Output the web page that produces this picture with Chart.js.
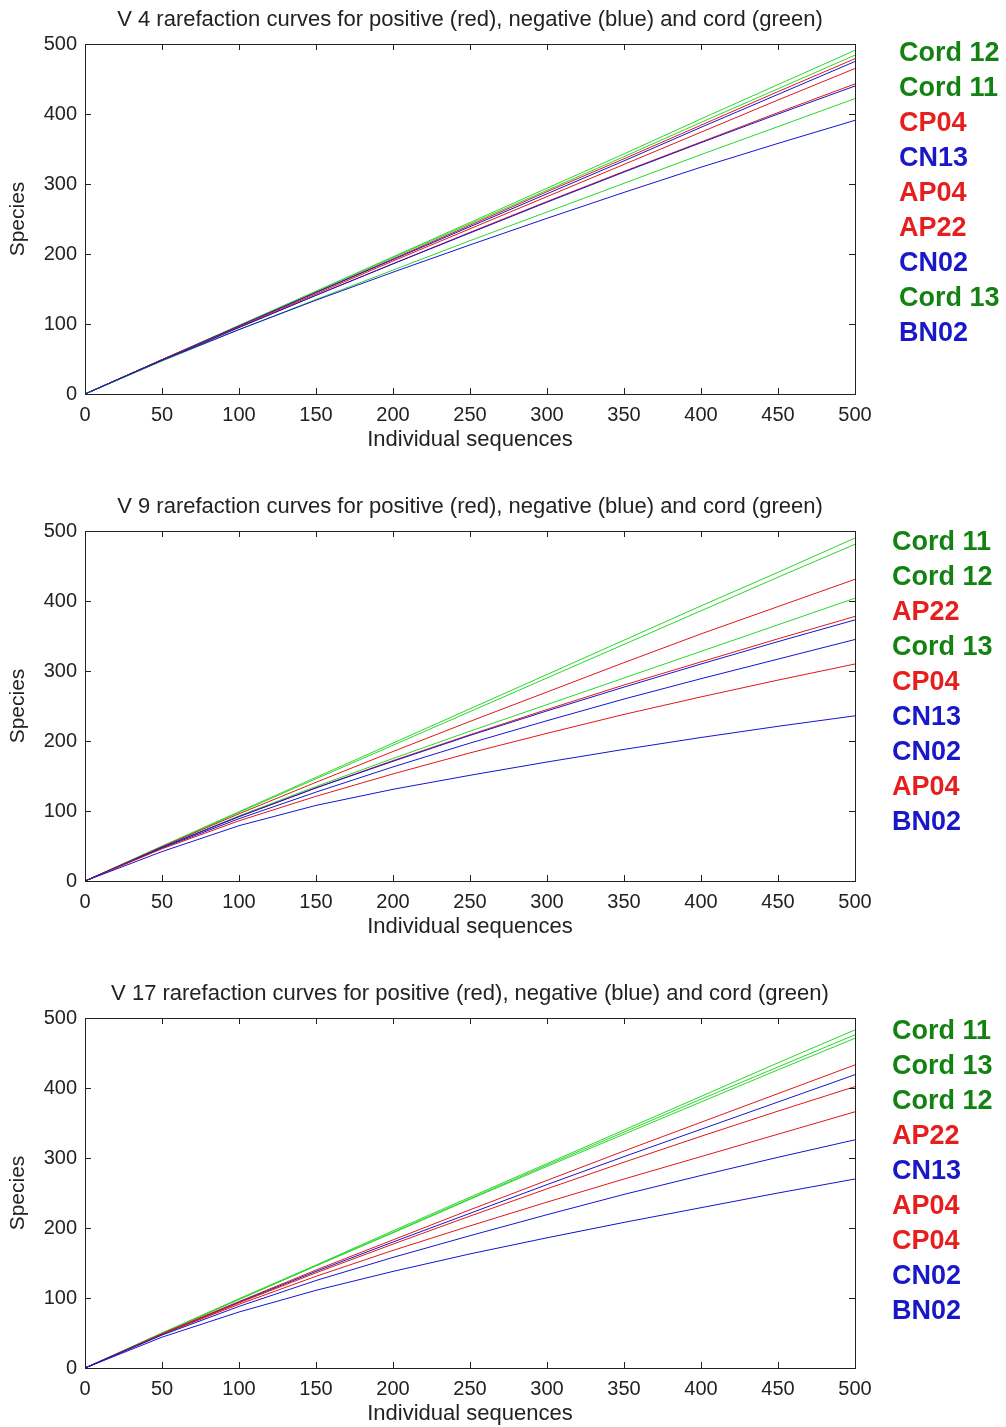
<!DOCTYPE html>
<html>
<head>
<meta charset="utf-8">
<script src="https://cdn.jsdelivr.net/npm/chart.js@4.4.1/dist/chart.umd.min.js"></script>
<style>
  html, body { margin: 0; padding: 0; background: #fff; }
  body { width: 1006px; height: 1427px; position: relative; overflow: hidden; }
  canvas { position: absolute; left: 0; }
  .legend { position: absolute; font: bold 27px "Liberation Sans", Arial, sans-serif; line-height: 35px; white-space: nowrap; }
</style>
</head>
<body>
<canvas id="v4" width="1006" height="487" style="top:0px"></canvas>
<canvas id="v9" width="1006" height="487" style="top:487px"></canvas>
<canvas id="v17" width="1006" height="487" style="top:974px"></canvas>
<div class="legend" id="leg4" style="left:899px; top:35px"></div>
<div class="legend" id="leg9" style="left:892px; top:524px"></div>
<div class="legend" id="leg17" style="left:892px; top:1013px"></div>
<script>
// sample points along the x axis (number of sequences drawn)
const seqCounts = [0, 50, 100, 150, 200, 250, 300, 350, 400, 450, 500];
const xTicks = [0, 50, 100, 150, 200, 250, 300, 350, 400, 450, 500];
const yTicks = [0, 100, 200, 300, 400, 500];

// V 4 panel, legend order
const v4Names = ['Cord 12', 'Cord 11', 'CP04', 'CN13', 'AP04', 'AP22', 'CN02', 'Cord 13', 'BN02'];
const v4Species = [
  [0, 49, 98, 147, 196, 245, 294, 343, 393, 442, 491],
  [0, 49, 98, 146, 195, 243, 291, 339, 388, 436, 484],
  [0, 49, 97, 145, 193, 241, 289, 336, 384, 432, 479],
  [0, 49, 97, 145, 192, 239, 286, 333, 381, 428, 475],
  [0, 49, 96, 143, 190, 236, 282, 328, 374, 420, 465],
  [0, 48, 95, 141, 186, 231, 275, 318, 360, 402, 443],
  [0, 48, 95, 141, 186, 230, 274, 317, 359, 400, 440],
  [0, 47, 92, 135, 177, 219, 260, 301, 342, 382, 422],
  [0, 48, 92, 134, 174, 213, 251, 288, 324, 358, 391]
];

// V 9 panel
const v9Names = ['Cord 11', 'Cord 12', 'AP22', 'Cord 13', 'CP04', 'CN13', 'CN02', 'AP04', 'BN02'];
const v9Species = [
  [0, 50, 99, 148, 197, 246, 295, 344, 393, 441, 490],
  [0, 49, 98, 146, 194, 242, 290, 338, 386, 434, 481],
  [0, 49, 96, 141, 185, 228, 270, 312, 353, 392, 431],
  [0, 48, 93, 135, 175, 214, 252, 290, 328, 366, 404],
  [0, 48, 92, 133, 172, 209, 245, 280, 313, 346, 378],
  [0, 48, 92, 133, 171, 208, 243, 277, 310, 342, 373],
  [0, 47, 89, 127, 163, 197, 229, 260, 289, 317, 345],
  [0, 46, 86, 121, 153, 183, 211, 238, 263, 287, 310],
  [0, 42, 79, 108, 131, 151, 170, 188, 205, 221, 236]
];

// V 17 panel
const v17Names = ['Cord 11', 'Cord 13', 'Cord 12', 'AP22', 'CN13', 'AP04', 'CP04', 'CN02', 'BN02'];
const v17Species = [
  [0, 50, 99, 147, 196, 244, 292, 340, 388, 436, 483],
  [0, 50, 98, 146, 194, 242, 290, 337, 384, 430, 476],
  [0, 49, 98, 146, 193, 241, 288, 334, 380, 426, 471],
  [0, 49, 95, 140, 183, 226, 268, 310, 351, 392, 433],
  [0, 48, 94, 138, 180, 221, 262, 302, 341, 380, 419],
  [0, 48, 93, 136, 177, 217, 256, 294, 331, 367, 402],
  [0, 48, 91, 131, 168, 203, 237, 270, 302, 334, 366],
  [0, 47, 88, 125, 158, 189, 219, 248, 275, 301, 326],
  [0, 44, 80, 111, 138, 163, 186, 208, 229, 250, 270]
];

const FONT = '"Liberation Sans", Arial, sans-serif';
Chart.defaults.font.family = FONT;
Chart.defaults.color = '#222';

function lineColor(name) {
  if (name.startsWith('Cord')) return '#2bd62b';
  return name[1] === 'P' ? '#e01818' : '#1414d0';
}
function textColor(name) {
  if (name.startsWith('Cord')) return '#138213';
  return name[1] === 'P' ? '#e61e1e' : '#1818c8';
}

// MATLAB-style box with inward ticks, plus the title
const boxPlugin = {
  id: 'box',
  afterDatasetsDraw(chart, args, opts) {
    const { ctx, chartArea: a, scales } = chart;
    ctx.save();
    ctx.strokeStyle = '#222';
    ctx.lineWidth = 1;
    ctx.beginPath();
    xTicks.forEach(v => {
      const x = Math.round(scales.x.getPixelForValue(v)) + 0.5;
      ctx.moveTo(x, a.bottom); ctx.lineTo(x, a.bottom - 6);
      ctx.moveTo(x, a.top); ctx.lineTo(x, a.top + 6);
    });
    yTicks.forEach(v => {
      const y = Math.round(scales.y.getPixelForValue(v)) + 0.5;
      ctx.moveTo(a.left, y); ctx.lineTo(a.left + 6, y);
      ctx.moveTo(a.right, y); ctx.lineTo(a.right - 6, y);
    });
    ctx.stroke();
    ctx.strokeRect(Math.round(a.left) + 0.5, Math.round(a.top) + 0.5,
      Math.round(a.right - a.left), Math.round(a.bottom - a.top));
    ctx.fillStyle = '#222';
    ctx.font = '22px ' + FONT;
    ctx.textAlign = 'center';
    ctx.textBaseline = 'middle';
    ctx.fillText(opts.text, (a.left + a.right) / 2, 20);
    ctx.restore();
  }
};

function makePanel(id, title, names, species, legendId) {
  new Chart(document.getElementById(id), {
    type: 'line',
    data: {
      datasets: names.map((name, i) => ({
        label: name,
        data: seqCounts.map((x, j) => ({ x: x, y: species[i][j] })),
        borderColor: lineColor(name),
        borderWidth: 1,
        pointRadius: 0,
        tension: 0
      })).reverse()
    },
    options: {
      responsive: false,
      animation: false,
      layout: { padding: { top: 44, right: 151, left: 0, bottom: 0 } },
      plugins: {
        legend: { display: false },
        tooltip: { enabled: false },
        box: { text: title }
      },
      scales: {
        x: {
          type: 'linear', min: 0, max: 500,
          afterBuildTicks: s => { s.ticks = xTicks.map(v => ({ value: v })); },
          ticks: { font: { size: 20 }, padding: 9, maxRotation: 0 },
          grid: { display: false, drawTicks: false },
          border: { display: false },
          title: { display: true, text: 'Individual sequences', font: { size: 22 }, padding: { top: 0, bottom: 34 } },
          afterFit: s => { s.height = 93; }
        },
        y: {
          type: 'linear', min: 0, max: 500,
          afterBuildTicks: s => { s.ticks = yTicks.map(v => ({ value: v })); },
          ticks: { font: { size: 20 }, padding: 8 },
          grid: { display: false, drawTicks: false },
          border: { display: false },
          title: { display: true, text: 'Species', font: { size: 21 }, padding: { top: 6, bottom: 0 } },
          afterFit: s => { s.width = 85; }
        }
      }
    },
    plugins: [boxPlugin]
  });

  const leg = document.getElementById(legendId);
  names.forEach(name => {
    const d = document.createElement('div');
    d.textContent = name;
    d.style.color = textColor(name);
    leg.appendChild(d);
  });
}

makePanel('v4', 'V 4 rarefaction curves for positive (red), negative (blue) and cord (green)', v4Names, v4Species, 'leg4');
makePanel('v9', 'V 9 rarefaction curves for positive (red), negative (blue) and cord (green)', v9Names, v9Species, 'leg9');
makePanel('v17', 'V 17 rarefaction curves for positive (red), negative (blue) and cord (green)', v17Names, v17Species, 'leg17');
</script>
</body>
</html>
